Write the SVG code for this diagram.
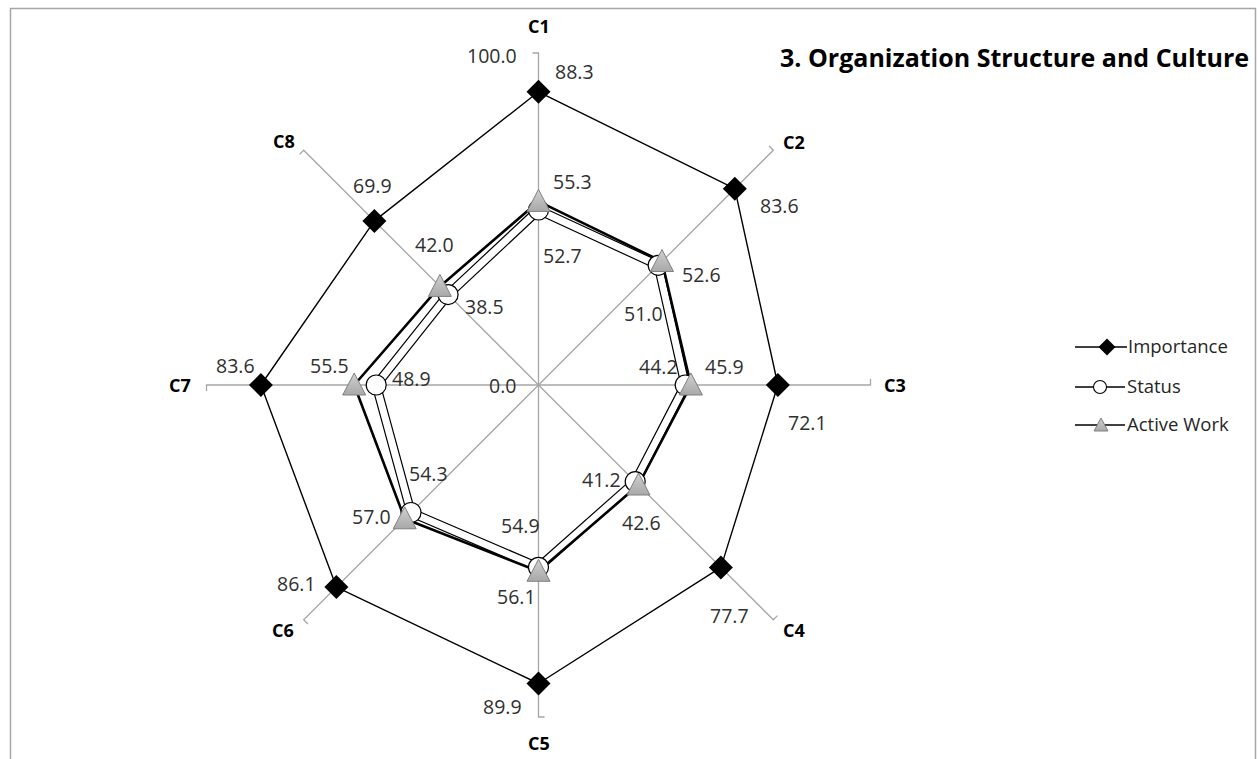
<svg xmlns="http://www.w3.org/2000/svg" width="1259" height="759" viewBox="0 0 1259 759">
  <style>
    .frame { fill: none; stroke: #a6a6a6; stroke-width: 1.5; }
    .axis { fill: none; stroke: #a6a6a6; stroke-width: 1.3; }
    .imp-line { fill: none; stroke: #000; stroke-width: 1.4; stroke-linejoin: round; }
    .st-edge { fill: none; stroke: #000; stroke-width: 9.4; stroke-linejoin: round; }
    .st-core { fill: none; stroke: #fff; stroke-width: 7; stroke-linejoin: round; }
    .aw-line { fill: none; stroke: #000; stroke-width: 2.6; stroke-linejoin: round; }
    .val { font-family: "Open Sans", "Liberation Sans", sans-serif; font-size: 19.5px; fill: #303030; }
    .cat { font-family: "Open Sans", "Liberation Sans", sans-serif; font-size: 18px; font-weight: bold; fill: #000; text-anchor: middle; }
    .title { font-family: "Open Sans", "Liberation Sans", sans-serif; font-size: 25px; font-weight: bold; fill: #000; }
    .leg { font-family: "Open Sans", "Liberation Sans", sans-serif; font-size: 18.5px; fill: #262626; }
    .leg-line { stroke: #000; stroke-width: 1.4; }
  </style>
  <defs>
    <linearGradient id="triFill" x1="0" y1="0" x2="0" y2="1">
      <stop offset="0" stop-color="#d0d0d0"/>
      <stop offset="1" stop-color="#a8a8a8"/>
    </linearGradient>
    <path id="diamond" d="M0,-12 L12,0 L0,12 L-12,0 Z" fill="#000"/>
    <circle id="ring" r="10" fill="#fff" stroke="#000" stroke-width="1.2"/>
    <path id="tri" d="M0,-12 L11.5,10 L-11.5,10 Z" fill="url(#triFill)" stroke="#808080" stroke-width="1"/>
    <path id="diamondSm" d="M0,-8.5 L8.5,0 L0,8.5 L-8.5,0 Z" fill="#000"/>
    <circle id="ringSm" r="6.5" fill="#fff" stroke="#000" stroke-width="1.1"/>
    <path id="triSm" d="M0,-7 L7,6 L-7,6 Z" fill="url(#triFill)" stroke="#808080" stroke-width="1"/>
  </defs>

  <rect width="1259" height="759" fill="#fff"/>
  <path class="frame" d="M10.5,770 V8.5 H1255.5 V770"/>

  <!-- radial axes with end ticks -->
  <g id="axes">
    <path class="axis" d="M538.5,385 L538.5,53 L532.5,53"/>
    <path class="axis" d="M538.5,385 L773.3,150.2 L769.1,146"/>
    <path class="axis" d="M538.5,385 L870.5,385 L870.5,379"/>
    <path class="axis" d="M538.5,385 L773.3,619.8 L777.5,615.6"/>
    <path class="axis" d="M538.5,385 L538.5,717 L544.5,717"/>
    <path class="axis" d="M538.5,385 L303.7,619.8 L307.9,624"/>
    <path class="axis" d="M538.5,385 L206.5,385 L206.5,391"/>
    <path class="axis" d="M538.5,385 L303.7,150.2 L299.5,154.4"/>
  </g>

  <!-- series outlines -->
  <g id="connectors">
    <polygon class="imp-line" points="538.5,91.8 734.8,188.7 777.9,385 720.9,567.4 538.5,683.5 336.4,587.1 260.9,385 374.4,220.9"/>
    <polygon class="st-edge" points="538.5,210 658.2,265.3 685.2,385 635.2,481.7 538.5,567.3 411,512.5 376.2,385 448.1,294.6"/>
    <polygon class="st-core" points="538.5,210 658.2,265.3 685.2,385 635.2,481.7 538.5,567.3 411,512.5 376.2,385 448.1,294.6"/>
    <polygon class="aw-line" points="538.5,201.4 662,261.5 690.9,385 638.5,485 538.5,571.3 404.7,518.8 354.2,385 439.9,286.4"/>
  </g>

  <!-- Importance markers -->
  <g id="importance">
    <use href="#diamond" x="538.5" y="91.8"/>
    <use href="#diamond" x="734.8" y="188.7"/>
    <use href="#diamond" x="777.9" y="385"/>
    <use href="#diamond" x="720.9" y="567.4"/>
    <use href="#diamond" x="538.5" y="683.5"/>
    <use href="#diamond" x="336.4" y="587.1"/>
    <use href="#diamond" x="260.9" y="385"/>
    <use href="#diamond" x="374.4" y="220.9"/>
  </g>

  <!-- Status markers -->
  <g id="status">
    <use href="#ring" x="538.5" y="210"/>
    <use href="#ring" x="658.2" y="265.3"/>
    <use href="#ring" x="685.2" y="385"/>
    <use href="#ring" x="635.2" y="481.7"/>
    <use href="#ring" x="538.5" y="567.3"/>
    <use href="#ring" x="411" y="512.5"/>
    <use href="#ring" x="376.2" y="385"/>
    <use href="#ring" x="448.1" y="294.6"/>
  </g>

  <!-- Active Work markers -->
  <g id="active-work">
    <use href="#tri" x="538.5" y="201.4"/>
    <use href="#tri" x="662" y="261.5"/>
    <use href="#tri" x="690.9" y="385"/>
    <use href="#tri" x="638.5" y="485"/>
    <use href="#tri" x="538.5" y="571.3"/>
    <use href="#tri" x="404.7" y="518.8"/>
    <use href="#tri" x="354.2" y="385"/>
    <use href="#tri" x="439.9" y="286.4"/>
  </g>

  <!-- category labels -->
  <g id="categories">
    <text class="cat" x="539" y="33">C1</text>
    <text class="cat" x="794" y="149">C2</text>
    <text class="cat" x="895" y="392">C3</text>
    <text class="cat" x="794" y="637">C4</text>
    <text class="cat" x="539" y="750">C5</text>
    <text class="cat" x="283" y="637">C6</text>
    <text class="cat" x="180" y="392">C7</text>
    <text class="cat" x="284" y="148">C8</text>
  </g>

  <!-- value labels -->
  <g id="values">
    <text class="val" x="467" y="63">100.0</text>
    <text class="val" x="489" y="393">0.0</text>
    <text class="val" x="555" y="79">88.3</text>
    <text class="val" x="760" y="213">83.6</text>
    <text class="val" x="788" y="430">72.1</text>
    <text class="val" x="710" y="623">77.7</text>
    <text class="val" x="483" y="714">89.9</text>
    <text class="val" x="277" y="591">86.1</text>
    <text class="val" x="216" y="373">83.6</text>
    <text class="val" x="353" y="193">69.9</text>
    <text class="val" x="543" y="263">52.7</text>
    <text class="val" x="624" y="321">51.0</text>
    <text class="val" x="639" y="374">44.2</text>
    <text class="val" x="582" y="487">41.2</text>
    <text class="val" x="501" y="533">54.9</text>
    <text class="val" x="409" y="481">54.3</text>
    <text class="val" x="392" y="386">48.9</text>
    <text class="val" x="465" y="314">38.5</text>
    <text class="val" x="553" y="189">55.3</text>
    <text class="val" x="682" y="282">52.6</text>
    <text class="val" x="705" y="374">45.9</text>
    <text class="val" x="622" y="530">42.6</text>
    <text class="val" x="497" y="604">56.1</text>
    <text class="val" x="352" y="524">57.0</text>
    <text class="val" x="310" y="373">55.5</text>
    <text class="val" x="415" y="252">42.0</text>
  </g>

  <text class="title" x="780" y="67">3. Organization Structure and Culture</text>

  <!-- legend -->
  <g id="legend">
    <g id="legend-importance">
      <line class="leg-line" x1="1075" y1="347" x2="1127" y2="347"/>
      <use href="#diamondSm" x="1107" y="347"/>
      <text class="leg" x="1128" y="353">Importance</text>
    </g>
    <g id="legend-status">
      <line class="leg-line" x1="1075" y1="387" x2="1125" y2="387"/>
      <use href="#ringSm" x="1100" y="387"/>
      <text class="leg" x="1127" y="393">Status</text>
    </g>
    <g id="legend-active">
      <line class="leg-line" x1="1075" y1="425" x2="1125" y2="425"/>
      <use href="#triSm" x="1101" y="425"/>
      <text class="leg" x="1127" y="431">Active Work</text>
    </g>
  </g>
</svg>
